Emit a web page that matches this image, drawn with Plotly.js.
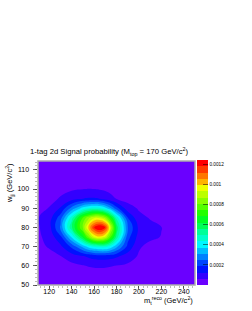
<!DOCTYPE html>
<html><head><meta charset="utf-8">
<script src="https://cdn.plot.ly/plotly-3.0.1.min.js"></script>
<style>html,body{margin:0;padding:0;background:#fff}</style></head>
<body><div id="c" style="width:252px;height:311px"></div>
<script>
const xVals=[110,120,130,140,150,155,160,165,170,175,180,190,200,210,220,230,240,250];
const yVals=[50,55,60,65,70,75,80,85,90,95,100,105,110,115];
const zRows=[
[1,1,1,1,1,1,1,1,1,1,1,1,1,1,1,1,1,1],
[1,1.5,2,2.5,3,3,3,3,3,3,3,2.5,2,1.5,1,1,1,1],
[1.5,2.5,3.5,4.5,5.8,6.6,7,7.2,7,6.6,6,5,3.5,2.5,1.5,1,1,1],
[2,3.5,6,9.5,12,13.5,15,15.5,15.5,15,13.5,9.5,5.5,3.5,2,1,1,1],
[4,7,11,20,33,40,44,46,46,41,33,17,7,4.5,2.5,1.5,1,1],
[5,8.5,17,38,64,80,94,98,92,74,54,21,10,7.5,6,3,1.5,1],
[5.5,10,26,55,82,100,118,126,118,90,60,25,11,8,6.4,3,1.5,1],
[6,9.5,22,47,75,85,92,92,85,68,48,19,8,5.8,3.5,2,1,1],
[3.5,6.6,13,27,40,44,46,45,40,31,21,9,5.5,4,2.5,1.5,1,1],
[2,4,6.8,9.5,12.4,13,13,12.4,9.8,7.5,6,4,2.5,2,1.5,1,1,1],
[1.5,2.5,4.5,5.5,6.1,6.3,6.2,5.8,5.3,4.8,4,3,2,1.5,1,1,1,1],
[1,1.5,2,2.5,3,3,3,3,2.5,2.5,2,1.5,1,1,1,1,1,1],
[1,1,1,1,1.5,1.5,1.5,1.5,1,1,1,1,1,1,1,1,1,1],
[1,1,1,1,1,1,1,1,1,1,1,1,1,1,1,1,1,1]];
const bandColors=['#6a00ff','#3300ff','#0011ff','#0044ff','#0080ff','#00bbff','#00f7ff','#00ffcc','#00ff99','#00ff55','#00ff22','#22ff00','#55ff00','#88ff00','#bbff00','#eeff00','#ffb300','#ff7700','#ff3b00','#ff0000'];
const colorTicks=[0.0002,0.0004,0.0006,0.0008,0.001,0.0012];
const colorTickText=['0.0002','0.0004','0.0006','0.0008','0.001','0.0012'];
const zMax=0.001245;
const n=bandColors.length;
const scale=[];bandColors.forEach((c,i)=>{scale.push([i/n,c]);scale.push([(i+1)/n,c]);});
const font='Liberation Sans, Arial, sans-serif';
Plotly.newPlot('c',[{
 type:'contour',x:xVals,y:yVals,z:zRows.map(r=>r.map(v=>v*1e-5)),
 zmin:0,zmax:zMax,colorscale:scale,autocontour:false,
 contours:{start:zMax/n,end:zMax*(n-1)/n,size:zMax/n,coloring:'fill',showlines:false},
 line:{width:0,smoothing:1.3},
 colorbar:{thickness:11,thicknessmode:'pixels',len:125,lenmode:'pixels',x:1.0155,xref:'paper',xanchor:'left',xpad:0,ypad:0,y:0,yanchor:'bottom',
  outlinewidth:0,tickmode:'array',tickvals:colorTicks,ticktext:colorTickText,ticks:'inside',ticklen:5,tickcolor:'#000',tickwidth:0.5,tickfont:{size:4.7,family:font,color:'#000'}}
}],{
 width:252,height:311,margin:{l:38,r:56.5,t:160.5,b:25.5,pad:0},
 paper_bgcolor:'#fff',plot_bgcolor:'#6a00ff',showlegend:false,
 title:{text:'1-tag 2d Signal probability (M<sub>top</sub> = 170 GeV/c<sup>2</sup>)',font:{size:7.7,family:font,color:'#000'},x:30/252,xanchor:'left',y:1-(151.5/311),yanchor:'middle'},
 xaxis:{range:[110,250],tickvals:[120,140,160,180,200,220,240],ticks:'outside',ticklen:3,tickwidth:0.6,tickcolor:'#000',ticklabelstandoff:-3,showgrid:false,zeroline:false,showline:false,tickfont:{size:7,family:font,color:'#000'},
  minor:{tick0:120,dtick:4,ticks:'outside',ticklen:1.5,tickwidth:0.4,tickcolor:'#555',showgrid:false}},
 yaxis:{range:[50,114.6],tickvals:[50,60,70,80,90,100,110],ticks:'outside',ticklen:4.5,tickwidth:0.6,tickcolor:'#000',ticklabelstandoff:2,showgrid:false,zeroline:false,showline:false,tickfont:{size:7,family:font,color:'#000'},
  minor:{dtick:2,ticks:'outside',ticklen:2.5,tickwidth:0.4,tickcolor:'#555',showgrid:false}},
 annotations:[
  {text:'m<sub>t</sub><sup>reco</sup> (GeV/c<sup>2</sup>)',xref:'paper',yref:'paper',x:1,y:0,xanchor:'right',yanchor:'middle',yshift:-15.5,showarrow:false,font:{size:7.5,family:font,color:'#000'}},
  {text:'w<sub>jj</sub> (GeV/c<sup>2</sup>)',xref:'paper',yref:'paper',x:0,y:1,xanchor:'center',yanchor:'top',xshift:-29,textangle:-90,showarrow:false,font:{size:7.5,family:font,color:'#000'}}
 ],
 shapes:[{type:'rect',xref:'paper',yref:'paper',x0:0,x1:1,y0:0,y1:1,line:{color:'#aaaaaa',width:1.5},fillcolor:'rgba(0,0,0,0)'}]
},{displayModeBar:false,staticPlot:true});
</script></body></html>
